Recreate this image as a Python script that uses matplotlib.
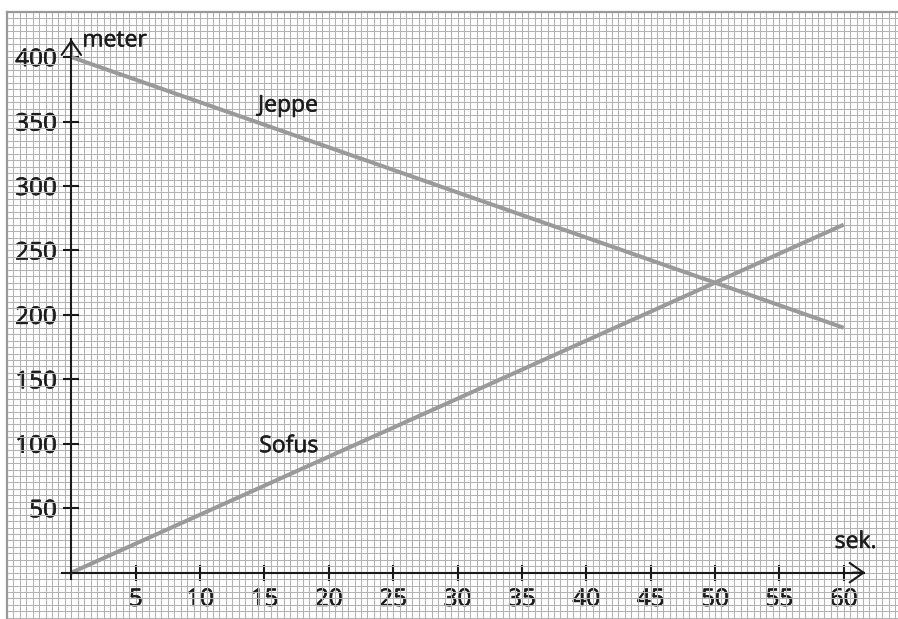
import numpy as np
import matplotlib
matplotlib.use("Agg")
import matplotlib.pyplot as plt
import matplotlib.patheffects as pe

# Data: time in seconds, distance in meters
tid = [0, 60]
jeppe = [400, 190]
sofus = [0, 270]
x_ticks = list(range(5, 61, 5))
y_ticks = list(range(50, 401, 50))

plt.rcParams['font.family'] = ['Open Sans', 'DejaVu Sans']
tekst = '#1c1c1c'
linjefarve = '#9a9a9a'
fed = [pe.withStroke(linewidth=0.4, foreground=tekst)]

fig = plt.figure(figsize=(8.98, 6.19), dpi=100)
ax = fig.add_axes([7 / 898, 0, 1 - 7 / 898, (619 - 12) / 619])
ax.set_xlim(-5, 64.22)
ax.set_ylim(-35.96, 435)

# graph paper
ax.set_xticks(np.arange(-5, 64.3, 0.5), minor=True)
ax.set_yticks(np.arange(-35, 435.1, 5), minor=True)
ax.grid(which='both', color='#b3b3b3', linewidth=0.75)
ax.tick_params(which='minor', length=0)
ax.set_axisbelow(True)

# border of the paper
ax.axvline(-5, color='#999999', lw=1.6, clip_on=False)
ax.axhline(435, color='#999999', lw=1.6, clip_on=False)

# axes through origin
for side in ['top', 'right']:
    ax.spines[side].set_visible(False)
ax.spines['left'].set_position(('data', 0))
ax.spines['bottom'].set_position(('data', 0))
ax.spines['left'].set_bounds(-5, 414)
ax.spines['bottom'].set_bounds(-0.7, 61.6)
for side in ['left', 'bottom']:
    ax.spines[side].set_color('#1a1a1a')
    ax.spines[side].set_linewidth(1.5)
    ax.spines[side].set_zorder(4)

ax.set_xticks(x_ticks)
ax.set_yticks(y_ticks)
ax.tick_params(which='major', direction='inout', length=12, width=1.5,
               color='#1a1a1a', labelsize=17.5, labelcolor=tekst)
ax.tick_params(axis='x', pad=5)
ax.tick_params(axis='y', pad=4.5)
for lbl in ax.get_xticklabels() + ax.get_yticklabels():
    lbl.set_path_effects(fed)

# arrow heads
ax.annotate('', xy=(61.9, 0), xytext=(60.5, 0),
            arrowprops=dict(arrowstyle='->,head_length=0.5,head_width=0.35',
                            lw=1.5, color='#1a1a1a', mutation_scale=20),
            zorder=5)
ax.annotate('', xy=(0, 416), xytext=(0, 400),
            arrowprops=dict(arrowstyle='->,head_length=0.5,head_width=0.35',
                            lw=1.5, color='#1a1a1a', mutation_scale=20),
            zorder=5)

# the two runners
ax.plot(tid, jeppe, color=linjefarve, lw=2.9, solid_capstyle='butt', zorder=3)
ax.plot(tid, sofus, color=linjefarve, lw=2.9, solid_capstyle='butt', zorder=3)

for x, y, s in [(14.5, 357.8, 'Jeppe'), (14.6, 93.5, 'Sofus'),
                (0.85, 408.3, 'meter'), (59.3, 19.2, 'sek.')]:
    ax.text(x, y, s, fontsize=16.5, color=tekst, va='baseline', path_effects=fed)

fig.savefig('out.png', dpi=100)
